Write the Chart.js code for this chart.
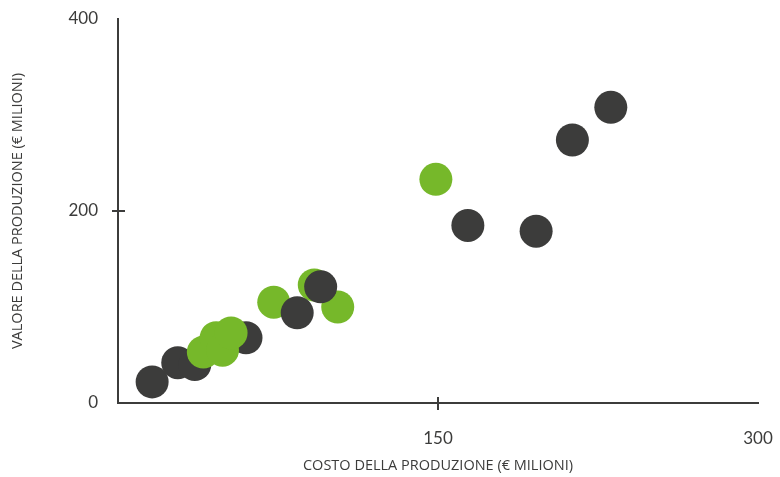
<!DOCTYPE html>
<html>
<head>
<meta charset="utf-8">
<script src="https://cdn.jsdelivr.net/npm/chart.js@4/dist/chart.umd.min.js"></script>
<style>
  html, body { margin: 0; padding: 0; background: #fff; }
  #wrap { width: 780px; height: 477px; }
</style>
</head>
<body>
<div id="wrap"><canvas id="chart"></canvas></div>
<script>
/** Data **/

// cost of production (€ millions), drawn in this order
const costs  = [16, 28, 36, 60, 40, 46, 49, 53, 73, 92, 103, 84, 95, 149, 164, 196, 213, 231];
// value of production (€ millions)
const values = [22, 42, 40, 68, 53, 68, 55, 73, 105, 123, 100, 94, 121, 233, 185, 179, 274, 308];
// group of each point: "a" = dark, "b" = green
const groups = ["a", "a", "a", "a", "b", "b", "b", "b", "b", "b", "b", "a", "a", "b", "a", "a", "a", "a"];

const xTicks = [0, 150, 300];
const yTicks = [0, 200, 400];

/** Colors **/
const dark_color = "#3c3c3b";
const green_color = "#76b82a";
const axis_color = "#3c3c3b";

const points = costs.map(function(c, i) { return {x: c, y: values[i]}; });
const pointColors = groups.map(function(g) { return g === "a" ? dark_color : green_color; });

// draws the small crossing tick marks on the axes (inner ticks only)
const crossTicks = {
    id: 'crossTicks',
    afterDraw(chart) {
        const ctx = chart.ctx;
        const xs = chart.scales.x, ys = chart.scales.y;
        const area = chart.chartArea;
        ctx.save();
        ctx.strokeStyle = axis_color;
        ctx.lineWidth = 2;
        ctx.beginPath();
        xTicks.slice(1, -1).forEach(function(v) {
            const px = xs.getPixelForValue(v);
            ctx.moveTo(px, area.bottom - 6);
            ctx.lineTo(px, area.bottom + 7);
        });
        yTicks.slice(1, -1).forEach(function(v) {
            const py = ys.getPixelForValue(v);
            ctx.moveTo(area.left - 6, py);
            ctx.lineTo(area.left + 7, py);
        });
        ctx.stroke();
        ctx.restore();
    }
};

const tickFont = {family: "Lato, 'DejaVu Sans', sans-serif", size: 17};
const titleFont = {family: "'Open Sans', sans-serif", size: 14.5};

// let the layout padding alone decide the plot area
function noEdgePadding(scale) {
    scale.paddingTop = 0;
    scale.paddingBottom = 0;
    scale.paddingLeft = 0;
    scale.paddingRight = 0;
}

new Chart(document.getElementById("chart"), {
    type: 'scatter',
    data: {
        datasets: [{
            data: points,
            backgroundColor: pointColors,
            borderWidth: 0,
            pointRadius: 16.5,
            pointHoverRadius: 16.5
        }]
    },
    options: {
        responsive: true,
        maintainAspectRatio: false,
        animation: false,
        layout: { padding: { top: 19, right: 22, left: 0, bottom: 0 } },
        plugins: { legend: { display: false }, tooltip: { enabled: false } },
        scales: {
            x: {
                type: 'linear',
                min: 0, max: 300,
                afterFit: function(scale) { scale.height = 74; noEdgePadding(scale); },
                afterBuildTicks: function(scale) { scale.ticks = xTicks.map(function(v) { return {value: v}; }); },
                grid: { display: false, drawTicks: false },
                border: { display: true, color: axis_color, width: 2 },
                ticks: {
                    color: axis_color, font: tickFont, padding: 25,
                    callback: function(v) { return v === 0 ? "" : String(v); }
                },
                title: {
                    display: true, text: "COSTO DELLA PRODUZIONE (€ MILIONI)",
                    color: axis_color, font: titleFont, padding: 2
                }
            },
            y: {
                type: 'linear',
                min: 0, max: 400,
                afterFit: function(scale) { scale.width = 118; noEdgePadding(scale); },
                afterBuildTicks: function(scale) { scale.ticks = yTicks.map(function(v) { return {value: v}; }); },
                grid: { display: false, drawTicks: false },
                border: { display: true, color: axis_color, width: 2 },
                ticks: { color: axis_color, font: tickFont, padding: 20 },
                title: {
                    display: true, text: "VALORE DELLA PRODUZIONE (€ MILIONI)",
                    color: axis_color, font: titleFont, padding: 9
                }
            }
        }
    },
    plugins: [crossTicks]
});
</script>
</body>
</html>
